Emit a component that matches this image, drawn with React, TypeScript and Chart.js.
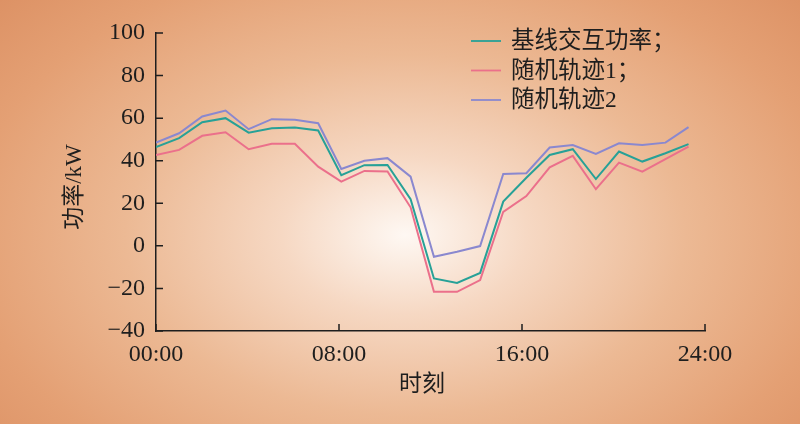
import React, { useEffect, useRef } from "react";
import { Chart, registerables } from "chart.js";

Chart.register(...registerables);

// Time of each sample in hours
const TIMES = [0, 1.01, 2.02, 3.04, 4.05, 5.06, 6.07, 7.09, 8.1, 9.11, 10.12, 11.13, 12.15, 13.16, 14.17, 15.18, 16.19, 17.21, 18.22, 19.23, 20.24, 21.26, 22.27, 23.28];

const SERIES_NAMES = ["基线交互功率；", "随机轨迹1；", "随机轨迹2"];

const BASELINE = [46.4, 50.6, 58.1, 60.0, 53.2, 55.3, 55.6, 54.2, 33.2, 37.9, 38.0, 21.9, -15.3, -17.4, -12.7, 20.8, 32.0, 42.7, 45.4, 31.4, 44.3, 39.6, 43.5, 47.8];
const TRAJ1 = [42.7, 45.1, 51.7, 53.4, 45.4, 48.0, 48.0, 37.2, 30.2, 35.2, 34.9, 18.1, -21.6, -21.6, -16.1, 16.0, 23.4, 36.9, 42.3, 26.6, 39.1, 34.9, 40.7, 46.6];
const TRAJ2 = [48.5, 52.9, 60.8, 63.6, 54.8, 59.5, 59.2, 57.6, 36.1, 40.0, 41.2, 32.5, -5.1, -2.8, -0.1, 33.8, 34.1, 46.2, 47.4, 43.2, 48.2, 47.4, 48.5, 55.8];

const X_TICK_LABELS = ["00:00", "08:00", "16:00", "24:00"];
const X_TITLE = "时刻";
const Y_TITLE = "功率/kW";

const COLORS = ["#27a197", "#eb708b", "#8a88cf"];
const FONT_FAMILY = "'Liberation Serif', 'Noto Sans CJK SC', serif";
const TEXT_COLOR = "#1e1e1e";

const tickMarks = {
  id: "tickMarks",
  afterDatasetsDraw(chart: any) {
    const { ctx, chartArea, scales } = chart;
    ctx.save();
    ctx.strokeStyle = "#1e1e1e";
    ctx.lineWidth = 1.5;
    ctx.beginPath();
    scales.y.ticks.forEach((t: any) => {
      const py = scales.y.getPixelForValue(t.value);
      ctx.moveTo(chartArea.left, py);
      ctx.lineTo(chartArea.left + 7, py);
    });
    scales.x.ticks.forEach((t: any) => {
      const px = scales.x.getPixelForValue(t.value);
      ctx.moveTo(px, chartArea.bottom);
      ctx.lineTo(px, chartArea.bottom - 7);
    });
    ctx.stroke();
    ctx.restore();
  },
};

const titlesPlugin = {
  id: "axisTitles",
  afterDraw(chart: any) {
    const { ctx } = chart;
    ctx.save();
    ctx.font = `23px ${FONT_FAMILY}`;
    ctx.fillStyle = TEXT_COLOR;
    ctx.textAlign = "center";
    ctx.textBaseline = "middle";
    ctx.fillText(X_TITLE, 422, 385);
    ctx.translate(75, 187);
    ctx.rotate(-Math.PI / 2);
    ctx.fillText(Y_TITLE, 0, 0);
    ctx.restore();
  },
};

const legendPlugin = {
  id: "customLegend",
  afterDraw(chart: any) {
    const { ctx } = chart;
    ctx.save();
    ctx.font = `23.5px ${FONT_FAMILY}`;
    ctx.textBaseline = "middle";
    ctx.textAlign = "left";
    chart.data.datasets.forEach((ds: any, i: number) => {
      const y = 41 + i * 29.5;
      ctx.strokeStyle = ds.borderColor;
      ctx.lineWidth = 1.8;
      ctx.beginPath();
      ctx.moveTo(471, y);
      ctx.lineTo(501, y);
      ctx.stroke();
      ctx.fillStyle = TEXT_COLOR;
      ctx.fillText(ds.label, 511, y + 1);
    });
    ctx.restore();
  },
};

export default function App() {
  const ref = useRef<HTMLCanvasElement>(null);

  useEffect(() => {
    document.body.style.margin = "0";
    const series = [BASELINE, TRAJ1, TRAJ2];
    const chart = new Chart(ref.current as HTMLCanvasElement, {
      type: "line",
      data: {
        datasets: series.map((vals, i) => ({
          label: SERIES_NAMES[i],
          data: TIMES.map((t, j) => ({ x: t, y: vals[j] })),
          borderColor: COLORS[i],
          backgroundColor: COLORS[i],
          borderWidth: 2,
          pointRadius: 0,
          tension: 0,
          fill: false,
        })),
      },
      options: {
        animation: false,
        responsive: false,
        maintainAspectRatio: false,
        layout: { padding: { top: 33, right: 95, left: 0, bottom: 0 } },
        plugins: {
          legend: { display: false },
          tooltip: { enabled: false },
        },
        scales: {
          x: {
            type: "linear",
            min: 0,
            max: 24,
            grid: { display: false, drawTicks: false },
            border: { display: true, color: "#1e1e1e", width: 1.5 },
            ticks: {
              stepSize: 8,
              padding: 9,
              color: TEXT_COLOR,
              font: { family: FONT_FAMILY, size: 24 },
              maxRotation: 0,
              callback: (v: any) => X_TICK_LABELS[Math.round(Number(v) / 8)],
            },
            title: { display: false },
            afterFit: (s: any) => {
              s.height = 93;
              s.paddingLeft = 0;
              s.paddingRight = 0;
            },
          },
          y: {
            min: -40,
            max: 100,
            grid: { display: false, drawTicks: false },
            border: { display: true, color: "#1e1e1e", width: 1.5 },
            ticks: {
              stepSize: 20,
              padding: 11,
              color: TEXT_COLOR,
              font: { family: FONT_FAMILY, size: 24 },
              callback: (v: any) => (Number(v) < 0 ? "\u2212" + Math.abs(Number(v)) : String(v)),
            },
            title: { display: false },
            afterFit: (s: any) => {
              s.width = 156;
              s.paddingTop = 0;
              s.paddingBottom = 0;
            },
          },
        },
      },
      plugins: [tickMarks, titlesPlugin, legendPlugin],
    });
    return () => chart.destroy();
  }, []);

  return (
    <div
      style={{
        position: "fixed",
        left: 0,
        top: 0,
        width: 800,
        height: 424,
        background:
          "radial-gradient(ellipse 560px 360px at 405px 235px, #fef8f3 0%, #f6d8c3 22%, #ecb994 50%, #e4a074 78%, #dc9063 100%)",
      }}
    >
      <canvas ref={ref} width={800} height={424} style={{ display: "block" }} />
    </div>
  );
}
